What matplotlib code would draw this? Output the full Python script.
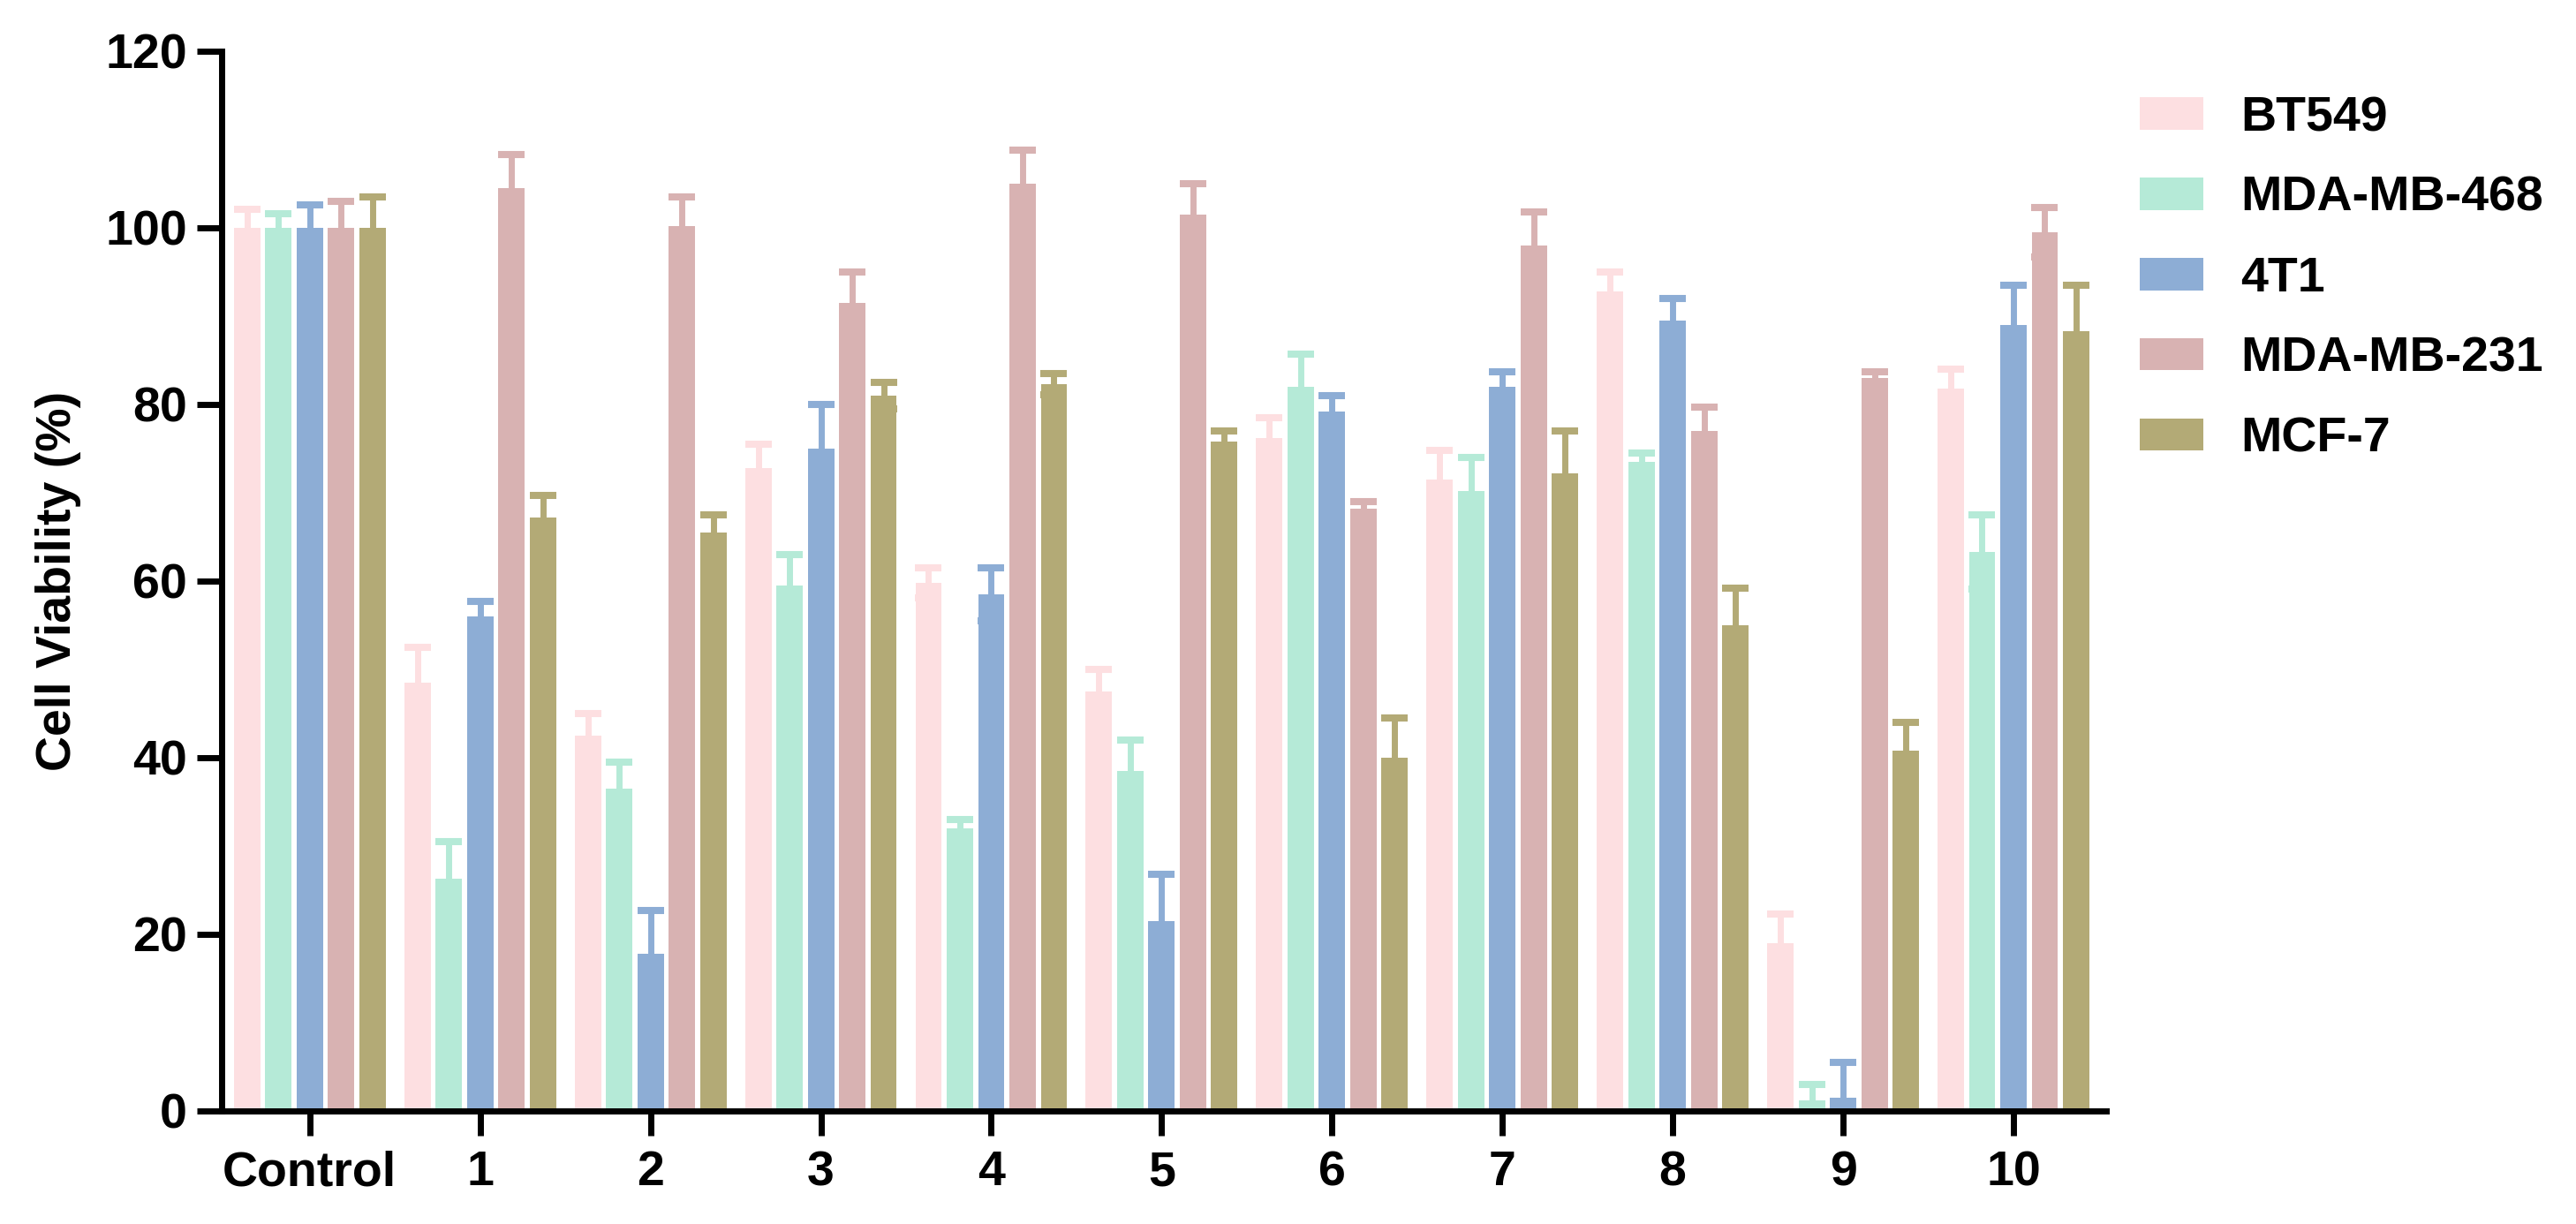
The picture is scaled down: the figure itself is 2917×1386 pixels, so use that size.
import matplotlib.pyplot as plt
import numpy as np

plt.rcParams["font.family"] = ["Liberation Sans", "DejaVu Sans"]
plt.rcParams["font.weight"] = "bold"

groups = ["Control", "1", "2", "3", "4", "5", "6", "7", "8", "9", "10"]
cell_lines = ["BT549", "MDA-MB-468", "4T1", "MDA-MB-231", "MCF-7"]
colors = ["#FDDFE1", "#B5EAD7", "#8DADD5", "#D8B2B2", "#B3AA76"]

# mean viability (%) per cell line, one value per group
bt549 = [100, 48.5, 42.5, 72.8, 59.8, 47.5, 76.2, 71.5, 92.8, 19.0, 81.8]
mda468 = [100, 26.3, 36.5, 59.5, 32.0, 38.5, 82.0, 70.2, 73.5, 1.2, 63.3]
t41 = [100, 56.0, 17.8, 75.0, 58.5, 21.5, 79.2, 82.0, 89.5, 1.5, 89.0]
mda231 = [100, 104.5, 100.2, 91.5, 105.0, 101.5, 68.2, 98.0, 77.0, 83.0, 99.5]
mcf7 = [100, 67.2, 65.5, 81.0, 82.3, 75.8, 40.0, 72.2, 55.0, 40.8, 88.3]

# error (SD), only the upper half shows above the bar
bt549_err = [2.1, 4.0, 2.5, 2.7, 1.7, 2.5, 2.3, 3.3, 2.2, 3.3, 2.2]
mda468_err = [1.6, 4.2, 3.0, 3.5, 1.0, 3.5, 3.7, 3.8, 1.0, 1.8, 4.2]
t41_err = [2.6, 1.7, 4.9, 5.0, 3.0, 5.3, 1.8, 1.7, 2.5, 4.0, 4.5]
mda231_err = [3.0, 3.8, 3.3, 3.5, 3.8, 3.5, 0.8, 3.8, 2.7, 0.7, 2.8]
mcf7_err = [3.5, 2.5, 2.0, 1.5, 1.2, 1.2, 4.5, 4.8, 4.2, 3.2, 5.2]

means = [bt549, mda468, t41, mda231, mcf7]
errs = [bt549_err, mda468_err, t41_err, mda231_err, mcf7_err]

fig = plt.figure(figsize=(14.585, 6.93), dpi=200)
ax = fig.add_axes([0.086, 0.0924, 0.7316, 0.8658])

x = np.arange(len(groups))
width = 0.155
step = 0.184
for i, (m, e, c, lab) in enumerate(zip(means, errs, colors, cell_lines)):
    pos = x + (i - 2) * step
    # symmetric error bars drawn behind the bars, so the lower half is hidden
    ax.bar(pos, m, width, color=c, label=lab, zorder=2, yerr=e,
           error_kw=dict(ecolor=c, elinewidth=2.5, capsize=5.4, capthick=2.9, zorder=1))

ax.set_xlim(-0.518, 10.544)
ax.set_ylim(0, 120)
ax.set_yticks(np.arange(0, 121, 20))
ax.set_xticks(x, labels=groups)
ax.spines["top"].set_visible(False)
ax.spines["right"].set_visible(False)
for s in ["left", "bottom"]:
    ax.spines[s].set_linewidth(2.5)
    ax.spines[s].set_zorder(3)
ax.tick_params(axis="both", width=2.5, length=10, labelsize=20)
ax.tick_params(axis="x", pad=6)
ax.tick_params(axis="y", pad=4)
ax.set_ylabel("Cell Viability (%)", fontsize=20, fontweight="bold", labelpad=10)

fig.legend(loc="upper left", bbox_to_anchor=(0.8307, 0.922), frameon=False,
           fontsize=20, handlelength=1.3, handleheight=0.63, handletextpad=0.76,
           labelspacing=0.70, borderpad=0, borderaxespad=0)

fig.savefig("out.png", dpi=200)
